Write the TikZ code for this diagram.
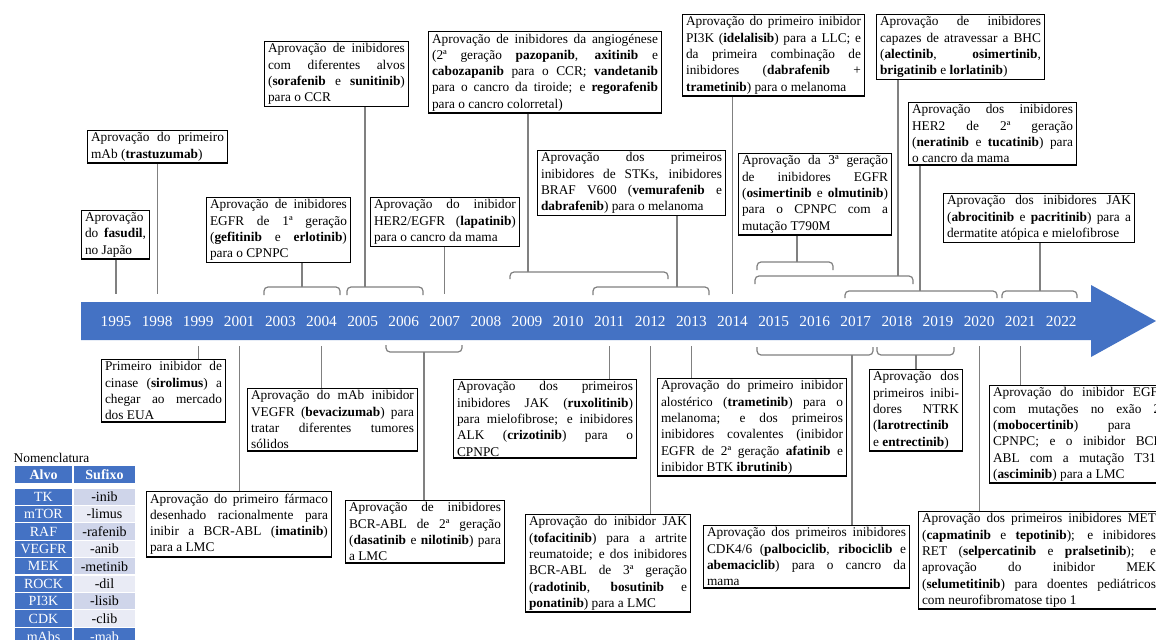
\documentclass[tikz,border=0pt]{standalone}
\usepackage{fontspec}
\setmainfont{Liberation Serif}
\usetikzlibrary{positioning}

\definecolor{axisblue}{HTML}{4472C4}
\definecolor{rowdark}{HTML}{CFD5EA}
\definecolor{rowlight}{HTML}{E9EBF5}
\definecolor{linkgrey}{HTML}{808080}
\tolerance=9999
\hbadness=10000

\tikzset{
  event/.style={draw=black, line width=1.1pt, fill=white, anchor=north west,
    align=justify, inner xsep=2.5pt, inner ysep=1.5pt,
    font=\fontsize{10}{12.2}\selectfont},
  link/.style={draw=linkgrey, line width=0.9pt},
  brace/.style={draw=linkgrey, line width=0.9pt, rounded corners=3pt},
  year/.style={text=white, font=\fontsize{11.5}{13}\selectfont},
  cell/.style={draw=white, line width=0.8pt, inner sep=0pt, minimum height=13.05pt,
    font=\fontsize{10.5}{12}\selectfont},
}

\begin{document}
\begin{tikzpicture}[x=0.75pt, y=-0.75pt]
    \fill[white] (0,0) rectangle (1156,639);
    \useasboundingbox (0,0) rectangle (1156,639);

    % Axis
    \fill[axisblue] (81,302) -- (1091,302) -- (1091,285) -- (1156,321) -- (1091,357) -- (1091,340) -- (81,340) -- cycle;
    \foreach \yr [count=\i from 0] in {1995,1998,1999,2001,2003,2004,2005,2006,2007,2008,2009,2010,2011,2012,2013,2014,2015,2016,2017,2018,2019,2020,2021,2022}
        \node[year] (y\yr) at ({116+41.1*\i},321) {\yr};
    \coordinate (up) at (0,294);
    \coordinate (down) at (0,346);

    % Brackets (name/left/right/link x/edge/ends)
    \foreach \name/\xa/\xb/\xc/\ya/\yb in {b0304/264/340/302/287/295, b0506/347/423/365/287/295,
        b0912/510/668/528/272/279, b1113/593/709/677/287/295, b1516/757/833/797/262/270,
        b1518/755/913/898/276/284, b1720/845/997/920/291/298, b2122/1002/1077/1040/291/298,
        b0607/386/462/424/352/345, b1517/757/873/852/355/347, b1819/877/954/916/355/347}{
        \draw[brace] (\xa,\yb) -- (\xa,\ya) -- (\xb,\ya) -- (\xb,\yb);
        \coordinate (\name) at (\xc,\ya);
    }

    % Events above the axis
    \node[event, text width=45.7pt] (fasudil) at (81,210) {Aprovação\linebreak do \textbf{fasudil},\linebreak no Japão};
    \node[event, text width=99.65pt] (trastuzumab) at (87,130) {Aprovação do primeiro\linebreak mAb (\textbf{trastuzumab})};
    \node[event, text width=102.65pt] (sorafenib) at (264,41) {Aprovação de inibidores\linebreak com diferentes alvos\linebreak (\textbf{sorafenib} e \textbf{sunitinib})\linebreak para o CCR};
    \node[event, text width=102.65pt] (gefitinib) at (206,197) {Aprovação de inibidores\linebreak EGFR de 1ª geração\linebreak (\textbf{gefitinib} e \textbf{erlotinib})\linebreak para o CPNPC};
    \node[event, text width=106.4pt] (lapatinib) at (370,197) {Aprovação do inibidor\linebreak HER2/EGFR (\textbf{lapatinib})\linebreak para o cancro da mama};
    \node[event, text width=169.4pt] (angiogenese) at (428,31) {Aprovação de inibidores da angiogénese\linebreak (2ª geração \textbf{pazopanib}, \textbf{axitinib} e\linebreak \textbf{cabozapanib} para o CCR; \textbf{vandetanib}\linebreak para o cancro da tiroide; e \textbf{regorafenib}\linebreak para o cancro colorretal)};
    \node[event, text width=135.65pt] (vemurafenib) at (537,150) {Aprovação dos primeiros\linebreak inibidores de STKs, inibidores\linebreak BRAF V600 (\textbf{vemurafenib} e\linebreak \textbf{dabrafenib}) para o melanoma};
    \node[event, text width=131.15pt] (idelalisib) at (682,14) {Aprovação do primeiro inibidor\linebreak PI3K (\textbf{idelalisib}) para a LLC; e\linebreak da primeira combinação de\linebreak inibidores (\textbf{dabrafenib} +\linebreak \textbf{trametinib}) para o melanoma};
    \node[event, text width=109.4pt] (osimertinib) at (738,153) {Aprovação da 3ª geração\linebreak de inibidores EGFR\linebreak (\textbf{osimertinib} e \textbf{olmutinib})\linebreak para o CPNPC com a\linebreak mutação T790M};
    \node[event, text width=120.65pt] (alectinib) at (876,14) {Aprovação de inibidores\linebreak capazes de atravessar a BHC\linebreak (\textbf{alectinib}, \textbf{osimertinib},\linebreak \textbf{brigatinib} e \textbf{lorlatinib})};
    \node[event, text width=120.65pt] (neratinib) at (908,102) {Aprovação dos inibidores\linebreak HER2 de 2ª geração\linebreak (\textbf{neratinib} e \textbf{tucatinib}) para\linebreak o cancro da mama};
    \node[event, text width=137.9pt] (abrocitinib) at (943,193) {Aprovação dos inibidores JAK\linebreak (\textbf{abrocitinib} e \textbf{pacritinib}) para a\linebreak dermatite atópica e mielofibrose};

    % Events below the axis
    \node[event, text width=87.65pt] (sirolimus) at (101,359) {Primeiro inibidor de\linebreak cinase (\textbf{sirolimus}) a\linebreak chegar ao mercado\linebreak dos EUA};
    \node[event, text width=133.4pt] (imatinib) at (146,491) {Aprovação do primeiro fármaco\linebreak desenhado racionalmente para\linebreak inibir a BCR-ABL (\textbf{imatinib})\linebreak para a LMC};
    \node[event, text width=122.15pt] (bevacizumab) at (247,388) {Aprovação do mAb inibidor\linebreak VEGFR (\textbf{bevacizumab}) para\linebreak tratar diferentes tumores\linebreak sólidos};
    \node[event, text width=113.9pt] (dasatinib) at (345,500) {Aprovação de inibidores\linebreak BCR-ABL de 2ª geração\linebreak (\textbf{dasatinib} e \textbf{nilotinib}) para\linebreak a LMC};
    \node[event, text width=131.9pt] (ruxolitinib) at (453,379) {Aprovação dos primeiros\linebreak inibidores JAK (\textbf{ruxolitinib})\linebreak para mielofibrose; e inibidores\linebreak ALK (\textbf{crizotinib}) para o\linebreak CPNPC};
    \node[event, text width=118.4pt] (tofacitinib) at (525,514) {Aprovação do inibidor JAK\linebreak (\textbf{tofacitinib}) para a artrite\linebreak reumatoide; e dos inibidores\linebreak BCR-ABL de 3ª geração\linebreak (\textbf{radotinib}, \textbf{bosutinib} e\linebreak \textbf{ponatinib}) para a LMC};
    \node[event, text width=136.4pt] (trametinib) at (657,378) {Aprovação do primeiro inibidor\linebreak alostérico (\textbf{trametinib}) para o\linebreak melanoma; e dos primeiros\linebreak inibidores covalentes (inibidor\linebreak EGFR de 2ª geração \textbf{afatinib} e\linebreak inibidor BTK \textbf{ibrutinib})};
    \node[event, text width=149.15pt] (palbociclib) at (703,525) {Aprovação dos primeiros inibidores\linebreak CDK4/6 (\textbf{palbociclib}, \textbf{ribociclib} e\linebreak \textbf{abemaciclib}) para o cancro da\linebreak mama};
    \node[event, text width=64.4pt] (larotrectinib) at (869,369) {Aprovação dos\linebreak primeiros inibi-\linebreak dores NTRK\linebreak (\textbf{larotrectinib}\linebreak e \textbf{entrectinib})};
    \node[event, text width=130.4pt] (mobocertinib) at (989,385) {Aprovação do inibidor EGFR\linebreak com mutações no exão 20\linebreak (\textbf{mobocertinib}) para o\linebreak CPNPC; e o inibidor BCR-\linebreak ABL com a mutação T315I\linebreak (\textbf{asciminib}) para a LMC};
    \node[event, text width=175.4pt] (capmatinib) at (918,511) {Aprovação dos primeiros inibidores MET\linebreak (\textbf{capmatinib} e \textbf{tepotinib}); e inibidores\linebreak RET (\textbf{selpercatinib} e \textbf{pralsetinib}); e\linebreak aprovação do inibidor MEK\linebreak (\textbf{selumetitinib}) para doentes pediátricos\linebreak com neurofibromatose tipo 1};

    % Links
    \draw[link] (fasudil.south -| y1995) -- (y1995 |- up);
    \draw[link] (trastuzumab.south -| y1998) -- (y1998 |- up);
    \draw[link] (gefitinib.south -| b0304) -- (b0304);
    \draw[link] (sorafenib.south -| b0506) -- (b0506);
    \draw[link] (lapatinib.south -| y2007) -- (y2007 |- up);
    \draw[link] (angiogenese.south -| b0912) -- (b0912);
    \draw[link] (vemurafenib.south -| b1113) -- (b1113);
    \draw[link] (idelalisib.south -| y2014) -- (y2014 |- up);
    \draw[link] (osimertinib.south -| b1516) -- (b1516);
    \draw[link] (alectinib.south -| b1518) -- (b1518);
    \draw[link] (neratinib.south -| b1720) -- (b1720);
    \draw[link] (abrocitinib.south -| b2122) -- (b2122);
    \draw[link] (y1999 |- down) -- (sirolimus.north -| y1999);
    \draw[link] (y2001 |- down) -- (imatinib.north -| y2001);
    \draw[link] (y2004 |- down) -- (bevacizumab.north -| y2004);
    \draw[link] (b0607) -- (dasatinib.north -| b0607);
    \draw[link] (y2011 |- down) -- (ruxolitinib.north -| y2011);
    \draw[link] (y2012 |- down) -- (tofacitinib.north -| y2012);
    \draw[link] (y2013 |- down) -- (trametinib.north -| y2013);
    \draw[link] (b1517) -- (palbociclib.north -| b1517);
    \draw[link] (b1819) -- (larotrectinib.north -| b1819);
    \draw[link] (y2020 |- down) -- (capmatinib.north -| y2020);
    \draw[link] (y2021 |- down) -- (mobocertinib.north -| y2021);

    % Nomenclature
    \node[cell, fill=axisblue, text=white, minimum width=44.25pt, minimum height=14.25pt,
        font=\fontsize{10.5}{12}\selectfont\bfseries] (alvo) at (43.5,474.5) {Alvo};
    \node[cell, fill=axisblue, text=white, minimum width=47.25pt, minimum height=14.25pt,
        font=\fontsize{10.5}{12}\selectfont\bfseries] (sufixo) at (104.5,474.5) {Sufixo};
    \node[above=1.5pt of alvo.north west, anchor=south west, inner sep=0pt,
        font=\fontsize{10}{12}\selectfont] (nomenclatura) {Nomenclatura};
    \foreach \tgt/\suf [count=\i] in {TK/-inib, mTOR/-limus, RAF/-rafenib, VEGFR/-anib, MEK/-metinib, ROCK/-dil, PI3K/-lisib, CDK/-clib}{
        \pgfmathtruncatemacro\odd{mod(\i,2)}
        \ifnum\odd=1 \def\sufcol{rowdark}\else\def\sufcol{rowlight}\fi
        \node[cell, fill=axisblue, text=white, minimum width=44.25pt] (tgt\i) at (43.5,{496.7+17.4*(\i-1)}) {\tgt};
        \node[cell, fill=\sufcol, minimum width=47.25pt] (suf\i) at (104.5,{496.7+17.4*(\i-1)}) {\suf};
    }
    \node[cell, fill=axisblue, text=white, minimum width=44.25pt] (tgt9) at (43.5,636.5) {mAbs};
    \node[cell, fill=axisblue, text=white, minimum width=47.25pt] (suf9) at (104.5,636.5) {-mab};
\end{tikzpicture}
\end{document}
